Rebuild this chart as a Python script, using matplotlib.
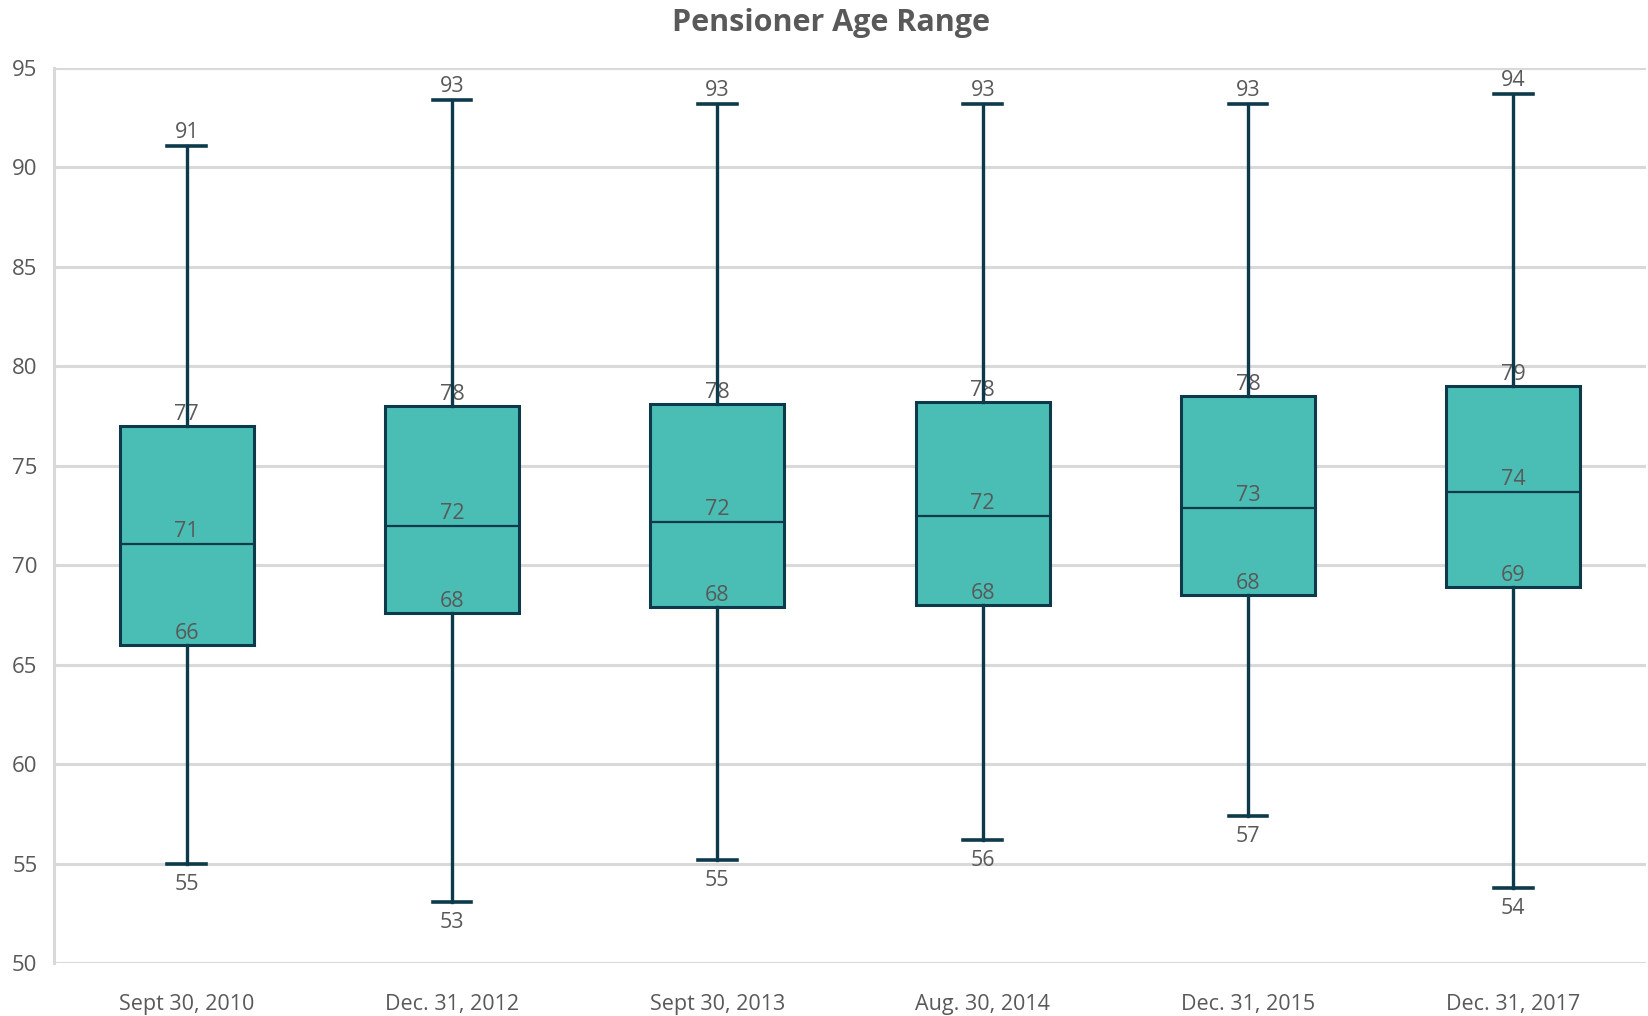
import matplotlib
matplotlib.use("Agg")
import matplotlib.pyplot as plt

plt.rcParams['font.family'] = ['Open Sans', 'DejaVu Sans']

# Pensioner age distribution per valuation date
dates = ["Sept 30, 2010", "Dec. 31, 2012", "Sept 30, 2013",
         "Aug. 30, 2014", "Dec. 31, 2015", "Dec. 31, 2017"]
age_min = [55.0, 53.1, 55.2, 56.2, 57.4, 53.8]
age_q1 = [66.0, 67.6, 67.9, 68.0, 68.5, 68.9]
age_median = [71.1, 72.0, 72.2, 72.5, 72.9, 73.7]
age_q3 = [77.0, 78.0, 78.1, 78.2, 78.5, 79.0]
age_max = [91.1, 93.4, 93.2, 93.2, 93.2, 93.7]

y_ticks = [50, 55, 60, 65, 70, 75, 80, 85, 90, 95]

TEXT = "#595959"
GRID = "#D9D9D9"
FILL = "#4ABEB4"
EDGE = "#0D3A4A"

fig = plt.figure(figsize=(16.48, 10.16), dpi=100)
ax = fig.add_axes([0.0328, 0.0517, 0.9660, 0.8814])

stats = []
for i, d in enumerate(dates):
    stats.append(dict(label=d, whislo=age_min[i], q1=age_q1[i],
                      med=age_median[i], q3=age_q3[i], whishi=age_max[i],
                      fliers=[]))

positions = list(range(len(dates)))
ax.bxp(stats, positions=positions, widths=0.505, patch_artist=True,
       showfliers=False, capwidths=0.145,
       boxprops=dict(facecolor=FILL, edgecolor=EDGE, linewidth=2.2),
       medianprops=dict(color=EDGE, linewidth=1.6),
       whiskerprops=dict(color=EDGE, linewidth=2.4),
       capprops=dict(color=EDGE, linewidth=2.6),
       zorder=2)

# value labels
fs = 15.5
for x, lo, q1, med, q3, hi in zip(positions, age_min, age_q1, age_median,
                                  age_q3, age_max):
    ax.annotate(f"{hi:.0f}", (x, hi), xytext=(0, 2), textcoords="offset points",
                ha="center", va="bottom", fontsize=fs, color=TEXT, zorder=4)
    ax.annotate(f"{q3:.0f}", (x, q3), xytext=(0, 1), textcoords="offset points",
                ha="center", va="bottom", fontsize=fs, color=TEXT, zorder=1.5)
    ax.annotate(f"{med:.0f}", (x, med), xytext=(0, 1), textcoords="offset points",
                ha="center", va="bottom", fontsize=fs, color=TEXT, zorder=4)
    ax.annotate(f"{q1:.0f}", (x, q1), xytext=(0, 1), textcoords="offset points",
                ha="center", va="bottom", fontsize=fs, color=TEXT, zorder=4)
    ax.annotate(f"{lo:.0f}", (x, lo), xytext=(0, -7), textcoords="offset points",
                ha="center", va="top", fontsize=fs, color=TEXT, zorder=4)

ax.set_xlim(-0.5, len(dates) - 0.5)
ax.set_ylim(50, 95)
ax.set_yticks(y_ticks)
ax.set_xticks(positions)
ax.set_xticklabels(dates)

ax.grid(axis="y", color=GRID, linewidth=2.2, zorder=0)
ax.set_axisbelow(True)
for s in ["top", "right", "bottom"]:
    ax.spines[s].set_visible(False)
ax.spines["left"].set_color(GRID)
ax.spines["left"].set_linewidth(2.2)

ax.tick_params(axis="y", length=0, pad=12, labelsize=16, labelcolor=TEXT)
ax.tick_params(axis="x", length=0, pad=22, labelsize=15.5, labelcolor=TEXT)

fig.text(0.504, 0.977, "Pensioner Age Range", ha="center", va="center",
         fontsize=22, fontweight="bold", color=TEXT)

fig.savefig("out.png", dpi=100, facecolor="white")
